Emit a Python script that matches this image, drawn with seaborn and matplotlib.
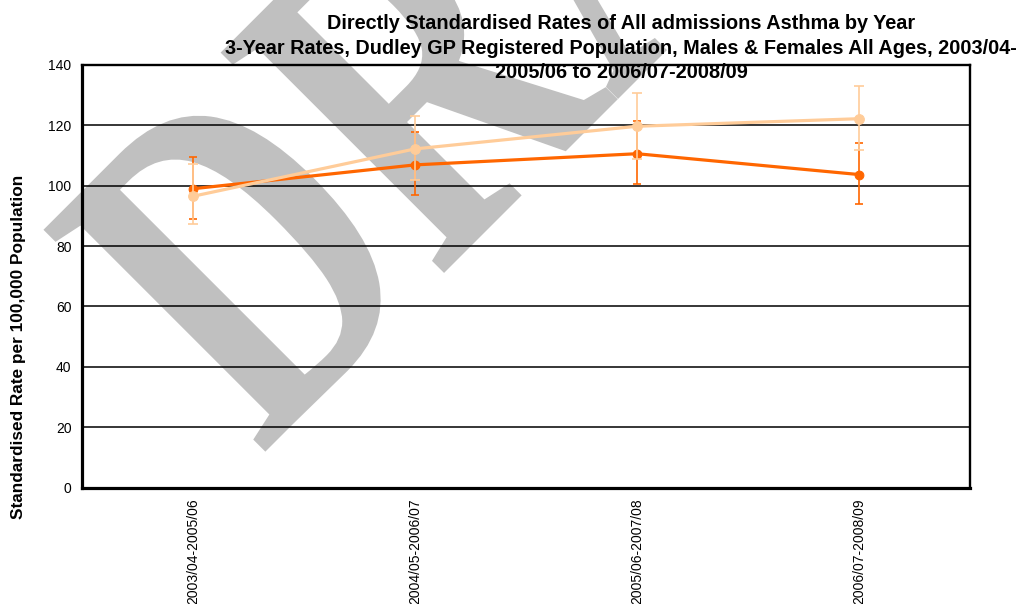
import numpy as np
import pandas as pd
import matplotlib
matplotlib.use("Agg")
import matplotlib.pyplot as plt
import seaborn as sns
from matplotlib.patheffects import AbstractPathEffect
from matplotlib.transforms import Affine2D

# 3-year periods on the x axis
periods = ['2003/04-2005/06', '2004/05-2006/07', '2005/06-2007/08', '2006/07-2008/09']

# dark orange series: rate with lower / upper confidence limits
dark_rate = [99.0, 106.9, 110.6, 103.7]
dark_lower = [88.9, 96.9, 100.5, 94.1]
dark_upper = [109.6, 117.7, 121.5, 114.0]

# light orange series
light_rate = [96.5, 112.2, 119.7, 122.2]
light_lower = [87.3, 102.0, 108.8, 111.9]
light_upper = [107.1, 123.2, 130.6, 133.2]

title = ("Directly Standardised Rates of All admissions Asthma by Year\n"
         "3-Year Rates, Dudley GP Registered Population, Males & Females All Ages, 2003/04-\n"
         "2005/06 to 2006/07-2008/09")
ylabel = "Standardised Rate per 100,000 Population"


class TallText(AbstractPathEffect):
    """stretch rotated glyphs along their own 'up' direction (watermark look)"""
    def __init__(self, x0, y0, angle, sy):
        super().__init__()
        self.extra = (Affine2D().translate(-x0, -y0).rotate_deg(-angle)
                      .scale(1, sy).rotate_deg(angle).translate(x0, y0))

    def draw_path(self, renderer, gc, tpath, affine, rgbFace=None):
        renderer.draw_path(gc, tpath, affine + self.extra, rgbFace)


sns.set_style("white")
plt.rcParams['font.family'] = ['Liberation Sans', 'DejaVu Sans']
for key in ['text.color', 'axes.labelcolor', 'xtick.color', 'ytick.color']:
    plt.rcParams[key] = 'black'

pos = np.arange(len(periods))
df = pd.DataFrame({'pos': pos, 'dark': dark_rate, 'light': light_rate})

W, H = 1029, 604
fig = plt.figure(figsize=(W / 100, H / 100), dpi=100)
fig.patch.set_facecolor('white')
ax = fig.add_axes([82 / W, 1 - 487.5 / H, (970 - 82) / W, (487.5 - 65) / H])
ax.set_facecolor('none')

# DRAFT watermark behind everything
wx, wy = 261, H - 456
wm = fig.text(wx / W, wy / H, 'DRAFT', rotation=45, rotation_mode='anchor',
              ha='left', va='baseline', fontsize=250, fontweight='bold',
              family='Liberation Serif', color='#C0C0C0', zorder=-1)
wm.set_path_effects([TallText(wx, wy, 45, 1.38)])

dark = '#FF6600'
light = '#FFCC99'

ax.errorbar(pos, dark_rate,
            yerr=[np.array(dark_rate) - np.array(dark_lower),
                  np.array(dark_upper) - np.array(dark_rate)],
            fmt='none', ecolor=dark, elinewidth=1.2, capsize=3.2, capthick=1.2, zorder=3)
sns.lineplot(data=df, x='pos', y='dark', color=dark, linewidth=2.3, marker='o',
             markersize=6.3, markeredgecolor=dark, ax=ax, zorder=3)

ax.errorbar(pos, light_rate,
            yerr=[np.array(light_rate) - np.array(light_lower),
                  np.array(light_upper) - np.array(light_rate)],
            fmt='none', ecolor=light, elinewidth=1.2, capsize=3.8, capthick=1.2, zorder=4)
sns.lineplot(data=df, x='pos', y='light', color=light, linewidth=2.3, marker='o',
             markersize=7, markeredgecolor=light, ax=ax, zorder=4)

ax.set_xlim(-0.5, len(periods) - 0.5)
ax.set_ylim(0, 140)
ax.set_yticks(np.arange(0, 141, 20))
ax.yaxis.grid(True, color='black', linewidth=1.1)
ax.set_axisbelow(True)

# category boundaries as major ticks, labels on minor ticks
ax.set_xticks(np.arange(-0.5, len(periods), 1.0))
ax.set_xticklabels([])
ax.set_xticks(pos, minor=True)
ax.set_xticklabels(periods, minor=True, rotation=90, fontsize=10, va='top')
ax.tick_params(axis='x', which='major', direction='out', length=5, width=2, color='black')
ax.tick_params(axis='x', which='minor', length=0, pad=8)
ax.tick_params(axis='y', direction='out', length=4.5, width=1.1, color='black',
               labelsize=10, pad=3)

for side in ['left', 'bottom']:
    ax.spines[side].set_linewidth(2.3)
    ax.spines[side].set_color('black')
for side in ['top', 'right']:
    ax.spines[side].set_linewidth(1.7)
    ax.spines[side].set_color('black')

ax.set_xlabel('')
ax.set_ylabel(ylabel, fontsize=12.4, fontweight='bold')
ax.yaxis.set_label_coords(-0.063, (487.5 - 346.5) / 422.5)

fig.text(621 / W, 1 - 14 / H, title, ha='center', va='top', fontsize=14.3,
         fontweight='bold', linespacing=1.38, zorder=5)

fig.savefig('out.png', dpi=100)
